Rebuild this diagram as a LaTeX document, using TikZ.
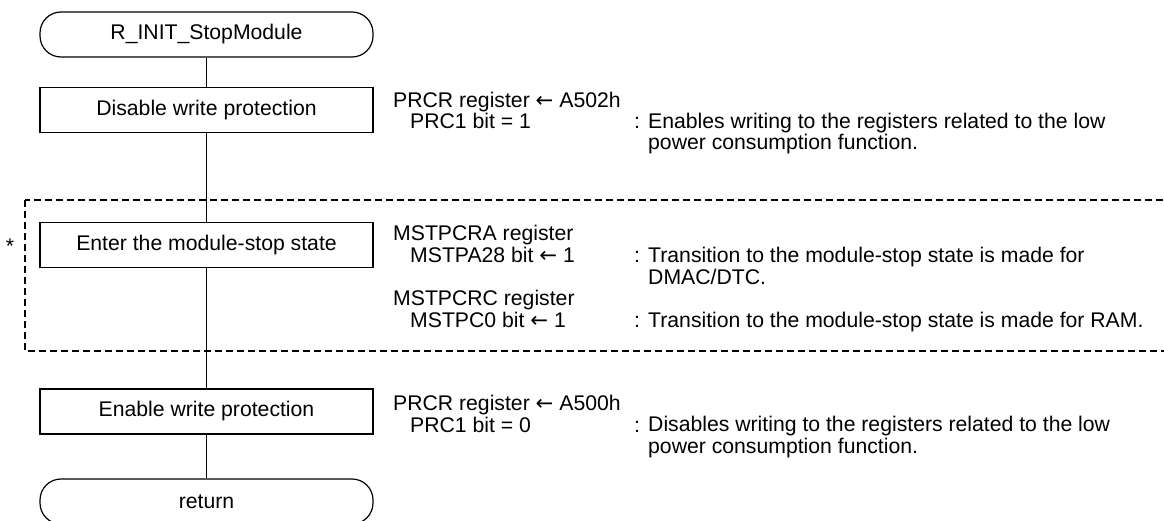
\documentclass[tikz,border=0pt]{standalone}
\usepackage{fontspec}
\setmainfont{Liberation Sans}
\newfontfamily\arrowfont{DejaVu Sans}
\newcommand{\larr}{{\arrowfont ←}}
\begin{document}
\begin{tikzpicture}[x=1pt,y=-1pt,
  every node/.style={font=\fontsize{21.2}{21.8}\selectfont, inner sep=0pt},
  proc/.style={draw, line width=1.2pt, minimum width=333pt, minimum height=45pt},
  term/.style={draw, line width=1.2pt, rounded corners=21pt, minimum width=333pt, minimum height=45pt},
  conn/.style={line width=1.2pt},
  note/.style={anchor=base west, align=left},
  grp/.style={draw, line width=1.2pt, dash pattern=on 7pt off 4pt}]
\useasboundingbox (0,0) rectangle (1164,521);
% group
\coordinate (g1) at (25,200);
\coordinate (g2) at (1180,351);
\draw[grp] (g1) rectangle (g2);
\node (star) at (10,246) {*};
% flow
\node[term] (start) at (206.5,34.5) {R\_INIT\_StopModule};
\node[proc] (dis) at (206.5,110) {Disable write protection};
\node[proc] (ent) at (206.5,245) {Enter the module-stop state};
\node[proc] (ena) at (206.5,411.5) {Enable write protection};
\node[term] (ret) at (206.5,501.5) {return};
\draw[conn] (start) -- (dis);
\draw[conn] (dis) -- (ent);
\draw[conn] (ent) -- (ena);
\draw[conn] (ena) -- (ret);
% notes block 1
\node[note] (a1) at (393,129) {PRCR register \larr\ A502h\\\hspace*{17pt}PRC1 bit = 1};
\node[note] (a2c) at (634,129) {:};
\node[note] (a2d) at (648,150) {Enables writing to the registers related to the low\\power consumption function.};
% notes block 2
\node[note] (b1) at (393,262) {MSTPCRA register\\\hspace*{17pt}MSTPA28 bit \larr\ 1};
\node[note] (b2c) at (634,262) {:};
\node[note] (b2d) at (648,284) {Transition to the module-stop state is made for\\DMAC/DTC.};
\node[note] (b4) at (393,327) {MSTPCRC register\\\hspace*{17pt}MSTPC0 bit \larr\ 1};
\node[note] (b5c) at (634,327) {:};
\node[note] (b5d) at (648,327) {Transition to the module-stop state is made for RAM.};
% notes block 3
\node[note] (c1) at (393,432) {PRCR register \larr\ A500h\\\hspace*{17pt}PRC1 bit = 0};
\node[note] (c2c) at (634,432) {:};
\node[note] (c2d) at (648,453) {Disables writing to the registers related to the low\\power consumption function.};
\end{tikzpicture}
\end{document}
